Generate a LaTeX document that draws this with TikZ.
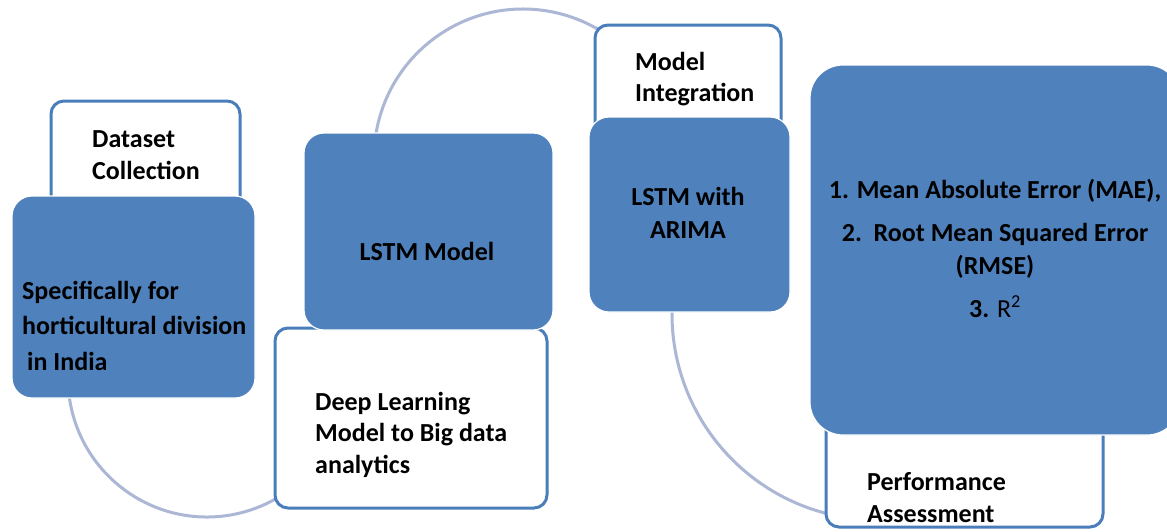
\documentclass[tikz,border=0pt]{standalone}
\usepackage{fontspec}
\setmainfont{Carlito}
\usetikzlibrary{calc}
\definecolor{myblue}{RGB}{79,129,189}
\definecolor{edgeblue}{RGB}{74,126,187}
\definecolor{arcblue}{RGB}{172,183,214}
\tikzset{
  bluebox/.style={rectangle, rounded corners=20pt, fill=myblue, draw=white, line width=1.2pt, inner sep=0pt},
  whitebox/.style={rectangle, rounded corners=13pt, fill=white, draw=edgeblue, line width=3pt, inner sep=0pt},
  arcline/.style={draw=arcblue, line width=3pt},
  txt/.style={font=\fontsize{26}{32}\selectfont\bfseries, inner sep=0pt, text=black},
}
\begin{document}
\begin{tikzpicture}[x=1pt,y=-1pt]
\fill[white] (0,0) rectangle (1167,531);
\useasboundingbox (0,0) rectangle (1167,531);
\clip (0,0) rectangle (1167,531);

% arcs (connectors, drawn behind the boxes)
\coordinate (a1s) at ($(207,378)+(174:139)$);
\coordinate (a2s) at ($(523,158)+(186:149)$);
\coordinate (a3s) at ($(878,314)+(182:206)$);
\draw[arcline] (a1s) arc[start angle=174, end angle=50, radius=139];
\draw[arcline] (a2s) arc[start angle=186, end angle=305, radius=149];
\draw[arcline] (a3s) arc[start angle=182, end angle=100, radius=206];

% white boxes
\node[whitebox, minimum width=189pt, minimum height=159pt] (w1) at (145.5,180.5) {};
\node[whitebox, minimum width=272pt, minimum height=180pt] (w2) at (411,418) {};
\node[whitebox, minimum width=186pt, minimum height=175pt] (w3) at (688,112.5) {};
\node[whitebox, minimum width=277pt, minimum height=227pt] (w4) at (964.5,413.5) {};

% blue boxes
\node[bluebox, minimum width=243pt, minimum height=202pt] (b1) at (133.5,297) {};
\node[bluebox, minimum width=249pt, minimum height=197pt] (b2) at (428.5,231.5) {};
\node[bluebox, minimum width=201pt, minimum height=195pt] (b3) at (689.5,214.5) {};
\node[bluebox, rounded corners=33pt, minimum width=370pt, minimum height=370pt] (b4) at (995,250) {};

% texts (base anchor = baseline of the last line)
\node[txt, anchor=base west, align=left] (t1) at (92,179) {Dataset\\Collection};
\node[txt, anchor=base west, align=left, font=\fontsize{26}{35.5}\selectfont\bfseries] (t2) at (22,370) {Specifically for\\horticultural division\\\hspace*{5pt}in India};
\node[txt, anchor=base] (t3) at (427,260) {LSTM Model};
\node[txt, anchor=base west, align=left, font=\fontsize{26}{31.5}\selectfont\bfseries] (t4) at (315,473) {Deep Learning\\Model to Big data\\analytics};
\node[txt, anchor=base west, align=left, font=\fontsize{26}{31}\selectfont\bfseries] (t5) at (635,101) {Model\\Integration};
\node[txt, anchor=base, align=center, font=\fontsize{26}{33}\selectfont\bfseries] (t6) at (688,238) {LSTM with\\ARIMA};
\node[txt, anchor=base, align=center, font=\fontsize{26}{33}\selectfont\bfseries] (t7) at (995,317) {1. Mean Absolute Error (MAE),\\[10pt]2.\ \ Root Mean Squared Error\\(RMSE)\\[10pt]3. {\mdseries R\textsuperscript{2}}};
\node[txt, anchor=base west, align=left] (t8) at (867,522) {Performance\\Assessment};
\end{tikzpicture}
\end{document}
